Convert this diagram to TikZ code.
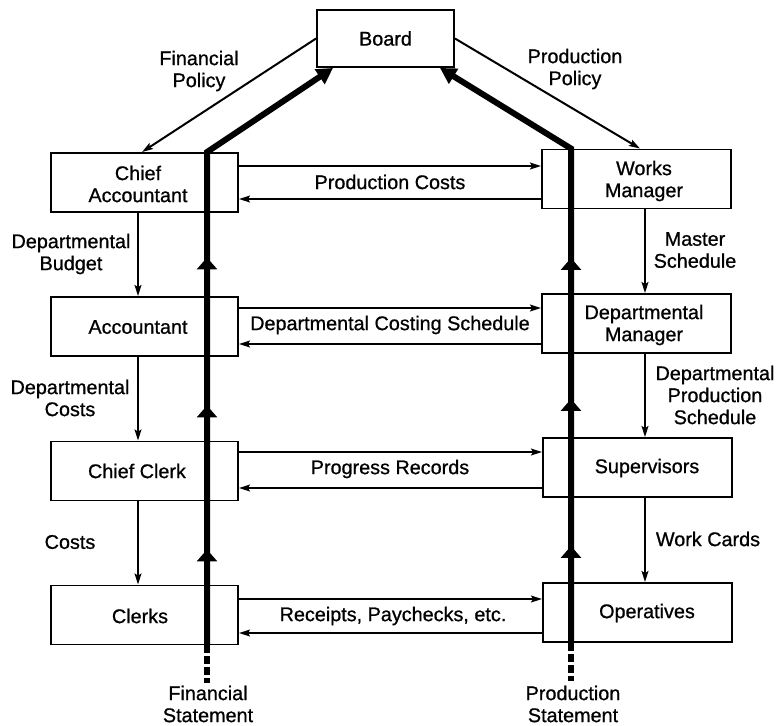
\documentclass[tikz,border=0pt]{standalone}
\usepackage{fontspec}
\setmainfont{Liberation Sans}[FakeBold=0.8]
\usetikzlibrary{arrows.meta,decorations.markings}
\tikzset{uptip/.tip={Triangle[length=6pt,width=10pt]}}

\begin{document}
\begin{tikzpicture}[x=0.5pt,y=-0.5pt,
  every node/.style={font=\fontsize{9.9}{11}\selectfont, align=center, inner sep=0pt},
  box/.style={draw, line width=0.95pt, minimum height=29.5pt},
  lbox/.style={box, minimum width=93.5pt},
  rbox/.style={box, minimum width=94.5pt},
  flow/.style={line width=1pt, -{Stealth[length=5.5pt,width=3.4pt,inset=1pt]}},
  trunk/.style={line width=3pt, -{Triangle[length=8pt,width=8.5pt]}},
  stub/.style={line width=3pt, dash pattern=on 4pt off 1.5pt},
]
\useasboundingbox (0,0) rectangle (776,725);

% top of the organisation
\node[draw, line width=0.95pt, minimum width=68.5pt, minimum height=28.5pt] (board) at (385.5,38.5) {Board};

% financial side
\node[lbox] (ca) at (144.5,182.5) {};
\node (caT) at (138,184) {Chief\\Accountant};
\node[lbox] (acc) at (144.5,326.5) {};
\node (accT) at (138,327) {Accountant};
\node[lbox] (cc) at (144.5,471) {};
\node (ccT) at (137,471) {Chief Clerk};
\node[lbox] (cl) at (144.5,615) {};
\node (clT) at (140,616) {Clerks};

% production side
\node[rbox] (wm) at (636.5,179) {};
\node (wmT) at (644,181) {Works\\Manager};
\node[rbox] (dm) at (636.5,323.5) {};
\node (dmT) at (644,325) {Departmental\\Manager};
\node[rbox] (sv) at (637.5,467.5) {};
\node (svT) at (647,468) {Supervisors};
\node[rbox] (op) at (637.5,612.5) {};
\node (opT) at (647,613) {Operatives};

% policy from the board
\draw[flow] (board.west) -- (ca.north -| 142,0);
\draw[flow] (board.east) -- (wm.north -| 640,0);
\node (fp) at (199,71) {Financial\\Policy};
\node (pp) at (575,69) {Production\\Policy};

% downward instructions, financial side
\draw[flow] (ca.south -| 138,0) -- (acc.north -| 138,0);
\draw[flow] (acc.south -| 138,0) -- (cc.north -| 138,0);
\draw[flow] (cc.south -| 138,0) -- (cl.north -| 138,0);
\node (db) at (71,254) {Departmental\\Budget};
\node (dc) at (70,398) {Departmental\\Costs};
\node (co) at (70,542) {Costs};

% downward instructions, production side
\draw[flow] (wm.south -| 645,0) -- (dm.north -| 645,0);
\draw[flow] (dm.south -| 645,0) -- (sv.north -| 645,0);
\draw[flow] (sv.south -| 645,0) -- (op.north -| 645,0);
\node (ms) at (695,250) {Master\\Schedule};
\node (dps) at (715,395) {Departmental\\Production\\Schedule};
\node (wc) at (708,539) {Work Cards};

% exchanges between the two sides
\draw[flow] (ca.east |- 0,166) -- (wm.west |- 0,166);
\draw[flow] (wm.west |- 0,199) -- (ca.east |- 0,199);
\node (pc) at (390,182) {Production Costs};
\draw[flow] (acc.east |- 0,308) -- (dm.west |- 0,308);
\draw[flow] (dm.west |- 0,344) -- (acc.east |- 0,344);
\node (dcs) at (390,325) {Departmental Costing Schedule};
\draw[flow] (cc.east |- 0,452) -- (sv.west |- 0,452);
\draw[flow] (sv.west |- 0,488) -- (cc.east |- 0,488);
\node (pr) at (390,469) {Progress Records};
\draw[flow] (cl.east |- 0,599) -- (op.west |- 0,599);
\draw[flow] (op.west |- 0,633) -- (cl.east |- 0,633);
\node (rp) at (393,616) {Receipts, Paychecks, etc.};

% statements rising to the board
\coordinate (fsE) at (207,683);
\coordinate (psE) at (571,681);
\draw[stub] (cl.south -| fsE) -- (fsE);
\draw[stub] (op.south -| psE) -- (psE);
\draw[trunk, postaction={decorate}, decoration={markings,
    mark=at position 48pt with {\arrow{uptip}},
    mark=at position 120pt with {\arrow{uptip}},
    mark=at position 194pt with {\arrow{uptip}}}]
  (cl.south -| fsE) -- (ca.north -| fsE) -- (board.south -| 333,0);
\draw[trunk, postaction={decorate}, decoration={markings,
    mark=at position 48.5pt with {\arrow{uptip}},
    mark=at position 122pt with {\arrow{uptip}},
    mark=at position 192.5pt with {\arrow{uptip}}}]
  (op.south -| psE) -- (wm.north -| psE) -- (board.south -| 440,0);
\node (fs) at (208,704) {Financial\\Statement};
\node (ps) at (573,704) {Production\\Statement};
\end{tikzpicture}
\end{document}
